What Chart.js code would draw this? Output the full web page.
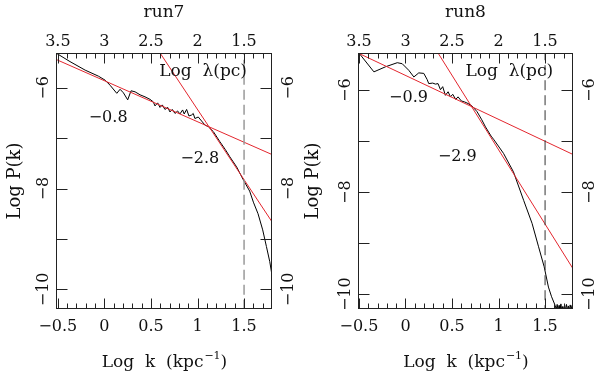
<!DOCTYPE html>
<html lang="en">
<head>
<meta charset="UTF-8" />
<title>Power spectra run7 / run8</title>
<style>
  body { margin: 0; background: #fff; }
  .panel { position: absolute; top: 0; width: 300px; height: 374px; }
  #p7 { left: 0; }
  #p8 { left: 300px; }
</style>
</head>
<body>
<div class="panel" id="p7"><canvas id="c7" width="300" height="374"></canvas></div>
<div class="panel" id="p8"><canvas id="c8" width="300" height="374"></canvas></div>

<script src="https://cdn.jsdelivr.net/npm/chart.js"></script>
<script>
// ---- data (Log k in kpc^-1, Log P(k)) ----
const run7K = [-0.52, -0.37, -0.207, -0.064, 0.008, 0.061, 0.133, 0.168, 0.204, 0.25, 0.286, 0.329, 0.383, 0.436, 0.49,
  0.525, 0.543, 0.572, 0.597, 0.622, 0.65, 0.68, 0.704, 0.729, 0.758, 0.786, 0.811, 0.84, 0.857, 0.883, 0.908, 0.937,
  0.954, 0.972, 1.008, 1.044, 1.08, 1.115, 1.17, 1.24, 1.30, 1.347, 1.42, 1.49, 1.56, 1.60, 1.65, 1.70, 1.74, 1.776, 1.80];
const run7P = [-5.31, -5.48, -5.65, -5.77, -5.85, -5.95, -6.11, -6.03, -6.10, -6.24, -6.06, -6.08, -6.14, -6.18, -6.23,
  -6.28, -6.36, -6.30, -6.39, -6.34, -6.43, -6.39, -6.48, -6.43, -6.51, -6.46, -6.52, -6.44, -6.52, -6.43, -6.56, -6.54,
  -6.51, -6.61, -6.58, -6.66, -6.74, -6.77, -6.87, -7.07, -7.23, -7.37, -7.57, -7.82, -8.05, -8.27, -8.50, -8.82, -9.15, -9.45, -9.72];

const run8K = [-0.5, -0.339, -0.214, -0.088, -0.035, 0.036, 0.09, 0.143, 0.197, 0.233, 0.25, 0.293, 0.322, 0.35, 0.376,
  0.40, 0.429, 0.458, 0.483, 0.508, 0.54, 0.565, 0.60, 0.636, 0.672, 0.715, 0.769, 0.82, 0.86, 0.92, 0.95, 1.054, 1.16,
  1.27, 1.36, 1.43, 1.49, 1.536, 1.57, 1.608, 1.62, 1.63, 1.64, 1.65, 1.66, 1.67, 1.68, 1.69, 1.70, 1.71, 1.72, 1.73,
  1.74, 1.75, 1.76, 1.77, 1.78, 1.79, 1.80];
const run8P = [-5.27, -5.64, -5.54, -5.46, -5.48, -5.61, -5.74, -5.66, -5.67, -5.79, -5.87, -5.86, -5.88, -5.87, -5.99,
  -5.93, -6.10, -6.03, -6.13, -6.08, -6.18, -6.13, -6.21, -6.23, -6.26, -6.31, -6.42, -6.58, -6.72, -6.90, -6.97, -7.24, -7.60,
  -8.16, -8.61, -9.07, -9.46, -9.86, -10.05, -10.22, -10.30, -10.20, -10.32, -10.22, -10.31, -10.19, -10.33, -10.24,
  -10.30, -10.21, -10.32, -10.20, -10.31, -10.23, -10.32, -10.21, -10.30, -10.22, -10.31];

// power-law fits (two end points each)
const fit7aK = [-0.52, 1.8], fit7aP = [-5.437, -7.325];   // slope -0.8
const fit7bK = [0.596, 1.8], fit7bP = [-5.305, -8.66];    // slope -2.8
const fit8aK = [-0.51, 1.8], fit8aP = [-5.27, -7.26];     // slope -0.9
const fit8bK = [0.35, 1.8],  fit8bP = [-5.27, -9.5];      // slope -2.9

// resolution limit marker
const cutK = [1.5, 1.5], cutP = [-11, -5];

// tick labels
const kTicks = [-0.5, 0, 0.5, 1, 1.5];
const kLabels = ['\u22120.5', '0', '0.5', '1', '1.5'];
const lamTicks = [3.5, 3, 2.5, 2, 1.5];
const lamLabels = ['3.5', '3', '2.5', '2', '1.5'];
const pTicks = [-10, -9, -8, -7, -6];
const pLabels = {'-10': '\u221210', '-8': '\u22128', '-6': '\u22126'};

const RED = '#e3262e';
const INK = '#111';
const FONT = '"DejaVu Serif", serif';

const pts = (K, P) => K.map((k, i) => ({x: k, y: P[i]}));

function txt(ctx, s, x, y, size, rot) {
  ctx.save();
  ctx.translate(x, y);
  if (rot) ctx.rotate(-Math.PI / 2);
  ctx.font = size + 'px ' + FONT;
  ctx.textAlign = 'center';
  ctx.textBaseline = 'middle';
  ctx.fillText(s, 0, 0);
  ctx.restore();
}

function seg(ctx, x1, y1, x2, y2) {
  ctx.beginPath();
  ctx.moveTo(x1, y1);
  ctx.lineTo(x2, y2);
  ctx.stroke();
}

// frame, inward ticks and all the PGPLOT-ish text
const axesFrame = {
  id: 'axesFrame',
  afterDraw(chart, args, o) {
    const {ctx, chartArea: a, scales} = chart;
    const x = scales.x, y = scales.y, lam = scales.lam;
    const L = a.left + 0.5, R = a.right - 0.5, T = a.top + 0.5, B = a.bottom - 0.5;
    ctx.save();
    ctx.strokeStyle = '#222';
    ctx.fillStyle = INK;
    ctx.lineWidth = 1;
    ctx.strokeRect(L, T, R - L, B - T);

    // bottom: Log k, minor every 0.1
    for (let i = -5; i <= 18; i++) {
      const px = Math.round(x.getPixelForValue(i / 10)) + 0.5;
      if (px < a.left || px > a.right) continue;
      seg(ctx, px, B, px, B - (i % 5 === 0 ? 10 : 5));
    }
    // top: Log lambda, minor every 0.1
    for (let i = 12; i <= 35; i++) {
      const px = Math.round(lam.getPixelForValue(i / 10)) + 0.5;
      if (px < a.left || px > a.right) continue;
      seg(ctx, px, T, px, T + (i % 5 === 0 ? 10 : 5));
    }
    // left/right: Log P
    pTicks.forEach(v => {
      const py = Math.round(y.getPixelForValue(v)) + 0.5;
      seg(ctx, L, py, L + 11, py);
      seg(ctx, R, py, R - 11, py);
    });

    kTicks.forEach((v, i) => txt(ctx, kLabels[i], x.getPixelForValue(v), a.bottom + 18, 16));
    lamTicks.forEach((v, i) => txt(ctx, lamLabels[i], lam.getPixelForValue(v), a.top - 11, 16));
    pTicks.forEach(v => {
      const s = pLabels[String(v)];
      if (!s) return;
      const py = y.getPixelForValue(v);
      txt(ctx, s, a.left - 12, py, 16, true);
      txt(ctx, s, a.right + 17, py, 16, true);
    });

    const cx = (a.left + a.right) / 2;
    txt(ctx, o.title, cx, 13, 17);
    txt(ctx, 'Log P(k)', o.yTitleX, (a.top + a.bottom) / 2, 18, true);

    // x title with superscript
    ctx.textAlign = 'left';
    ctx.textBaseline = 'middle';
    const main = 'Log  k  (kpc', sup = '\u22121', end = ')';
    ctx.font = '17px ' + FONT;
    const w1 = ctx.measureText(main).width, w3 = ctx.measureText(end).width;
    ctx.font = '11px ' + FONT;
    const w2 = ctx.measureText(sup).width;
    let sx = cx - (w1 + w2 + w3) / 2;
    const ty = 363;
    ctx.font = '17px ' + FONT;
    ctx.fillText(main, sx, ty);
    sx += w1;
    ctx.font = '11px ' + FONT;
    ctx.fillText(sup, sx + 1, ty - 7);
    sx += w2 + 1;
    ctx.font = '17px ' + FONT;
    ctx.fillText(end, sx, ty);

    // annotations placed in data coordinates
    o.notes.forEach(n => txt(ctx, n.s, x.getPixelForValue(n.k), y.getPixelForValue(n.p), n.size || 16));
    ctx.restore();
  }
};

function makePanel(id, opt) {
  return new Chart(document.getElementById(id), {
    type: 'line',
    data: {
      datasets: [
        {data: pts(cutK, cutP), borderColor: opt.cutColor, borderWidth: opt.cutWidth, borderDash: [10, 5]},
        {data: pts(opt.fitAK, opt.fitAP), borderColor: RED, borderWidth: 1},
        {data: pts(opt.fitBK, opt.fitBP), borderColor: RED, borderWidth: 1},
        {data: pts(opt.K, opt.P), borderColor: '#000', borderWidth: 1}
      ]
    },
    options: {
      responsive: false,
      animation: false,
      layout: {padding: opt.pad},
      elements: {point: {radius: 0}, line: {tension: 0}},
      scales: {
        x: {type: 'linear', min: opt.xMin, max: 1.8, display: false},
        lam: {type: 'linear', axis: 'x', min: 1.2, max: 3 - opt.xMin, reverse: true, display: false},
        y: {type: 'linear', min: opt.yMin, max: opt.yMax, display: false}
      },
      plugins: {
        legend: {display: false},
        tooltip: {enabled: false},
        axesFrame: {title: opt.title, yTitleX: opt.yTitleX, notes: opt.notes}
      }
    },
    plugins: [axesFrame]
  });
}

makePanel('c7', {
  title: 'run7', K: run7K, P: run7P,
  fitAK: fit7aK, fitAP: fit7aP, fitBK: fit7bK, fitBP: fit7bP,
  cutColor: '#9a9a9a', cutWidth: 1.5,
  xMin: -0.52, yMin: -10.39, yMax: -5.31,
  pad: {left: 56, right: 28, top: 53, bottom: 65},
  yTitleX: 15,
  notes: [
    {s: '\u22120.8', k: 0.04, p: -6.60},
    {s: '\u22122.8', k: 1.025, p: -7.41},
    {s: 'Log  \u03bb(pc)', k: 1.06, p: -5.67, size: 17}
  ]
});

makePanel('c8', {
  title: 'run8', K: run8K, P: run8P,
  fitAK: fit8aK, fitAP: fit8aP, fitBK: fit8bK, fitBP: fit8bP,
  cutColor: '#333', cutWidth: 1,
  xMin: -0.51, yMin: -10.29, yMax: -5.27,
  pad: {left: 58, right: 27, top: 53, bottom: 65},
  yTitleX: 13,
  notes: [
    {s: '\u22120.9', k: 0.033, p: -6.14},
    {s: '\u22122.9', k: 0.557, p: -7.31},
    {s: 'Log  \u03bb(pc)', k: 1.115, p: -5.63, size: 17}
  ]
});
</script>
</body>
</html>
